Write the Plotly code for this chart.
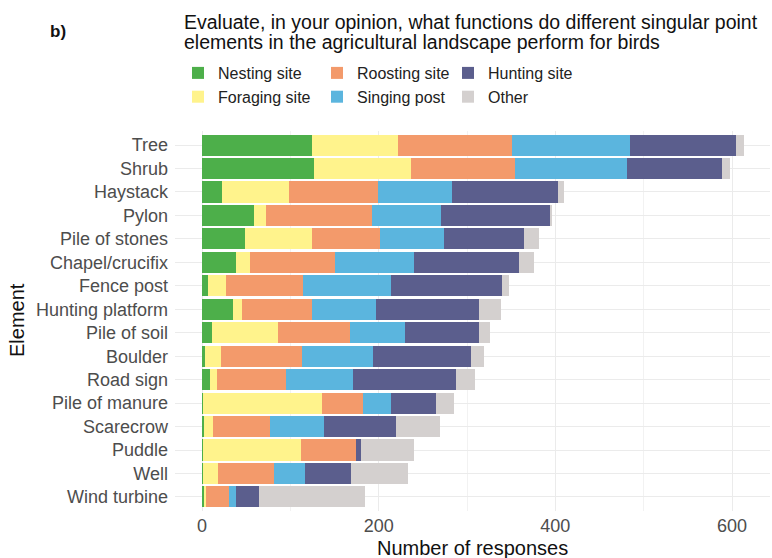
import plotly.graph_objects as go

elements = ["Tree", "Shrub", "Haystack", "Pylon", "Pile of stones", "Chapel/crucifix",
            "Fence post", "Hunting platform", "Pile of soil", "Boulder", "Road sign",
            "Pile of manure", "Scarecrow", "Puddle", "Well", "Wind turbine"]

nesting  = [125, 127, 23, 59, 49, 39, 7, 35, 11, 3, 9, 1, 2, 1, 1, 3]
foraging = [97, 110, 75, 13, 76, 15, 20, 10, 75, 18, 8, 135, 10, 111, 17, 1]
roosting = [129, 117, 101, 120, 77, 97, 87, 80, 81, 92, 78, 46, 65, 62, 63, 27]
singing  = [134, 127, 84, 78, 72, 89, 100, 72, 63, 80, 76, 32, 61, 0, 36, 7]
hunting  = [119, 108, 120, 124, 91, 119, 126, 116, 84, 111, 117, 51, 82, 6, 52, 26]
other    = [9, 9, 7, 2, 17, 17, 8, 25, 12, 15, 21, 20, 49, 60, 64, 120]

series_names = ["Nesting site", "Foraging site", "Roosting site", "Singing post", "Hunting site", "Other"]
series_values = [nesting, foraging, roosting, singing, hunting, other]
colors = ["#4DAF4A", "#FFF38C", "#F39A6B", "#5BB5DE", "#5B5E8D", "#D4D0CF"]
legend_ids = ["legend", "legend", "legend2", "legend2", "legend3", "legend3"]

fig = go.Figure()
for name, vals, col, lg in zip(series_names, series_values, colors, legend_ids):
    fig.add_trace(go.Bar(
        y=elements, x=vals, name=name, orientation="h",
        marker=dict(color=col, line=dict(width=0)),
        legend=lg, showlegend=True,
    ))

FONT = "Liberation Sans, Arial, sans-serif"
W, H = 772, 558
ML, MR, MT, MB = 175, 2, 131, 47
PW, PH = W - ML - MR, H - MT - MB


def px_x(x):
    return (x - ML) / PW


def px_y(y):
    return 1 + (MT - y) / PH


leg_common = dict(
    xanchor="left", yanchor="top",
    orientation="v", bgcolor="rgba(0,0,0,0)", borderwidth=0,
    font=dict(family=FONT, size=16, color="#222222"),
    tracegroupgap=0, traceorder="normal",
)

fig.update_layout(
    width=W, height=H,
    barmode="stack", bargap=0.1,
    plot_bgcolor="white", paper_bgcolor="white",
    margin=dict(l=ML, r=MR, t=MT, b=MB, autoexpand=False),
    font=dict(family=FONT, color="#4D4D4D"),
    legend=dict(x=px_x(178), y=px_y(56), **leg_common),
    legend2=dict(x=px_x(317), y=px_y(56), **leg_common),
    legend3=dict(x=px_x(448), y=px_y(56), **leg_common),
    xaxis=dict(
        range=[-30.6, 643], tickvals=[0, 200, 400, 600],
        showgrid=True, gridcolor="#EBEBEB", gridwidth=1,
        minor=dict(tickvals=[100, 300, 500], showgrid=True, gridcolor="#F2F2F2", gridwidth=0.6),
        zeroline=False, showline=False, ticks="",
        ticklabelstandoff=2,
        tickfont=dict(family=FONT, size=18, color="#4D4D4D"),
    ),
    yaxis=dict(
        categoryorder="array", categoryarray=elements,
        range=[15.6, -0.6],
        showgrid=True, gridcolor="#EBEBEB", gridwidth=1,
        zeroline=False, showline=False, ticks="",
        ticklabelstandoff=6,
        tickfont=dict(family=FONT, size=18, color="#4D4D4D"),
    ),
    annotations=[
        dict(text="<b>b)</b>", xref="paper", yref="paper", showarrow=False,
        x=px_x(48), y=px_y(32), xanchor="left", yanchor="middle",
        font=dict(family=FONT, size=17, color="#111111")),
        dict(text="Evaluate, in your opinion, what functions do different singular point",
             xref="paper", yref="paper", showarrow=False, align="left",
             x=px_x(182), y=px_y(22), xanchor="left", yanchor="middle",
             font=dict(family=FONT, size=19.5, color="#111111")),
        dict(text="elements in the agricultural landscape perform for birds",
             xref="paper", yref="paper", showarrow=False, align="left",
             x=px_x(182), y=px_y(42), xanchor="left", yanchor="middle",
             font=dict(family=FONT, size=19.5, color="#111111")),
        dict(text="Number of responses", xref="paper", yref="paper", showarrow=False,
             x=px_x(472), y=px_y(548), xanchor="center", yanchor="middle",
             font=dict(family=FONT, size=20, color="#111111")),
        dict(text="Element", xref="paper", yref="paper", showarrow=False, textangle=-90,
             x=px_x(17), y=px_y(320), xanchor="center", yanchor="middle",
             font=dict(family=FONT, size=20, color="#111111")),
    ],
)

fig.write_html("out.html", config={"displayModeBar": False},
               post_script="document.body.style.margin='0px';")
